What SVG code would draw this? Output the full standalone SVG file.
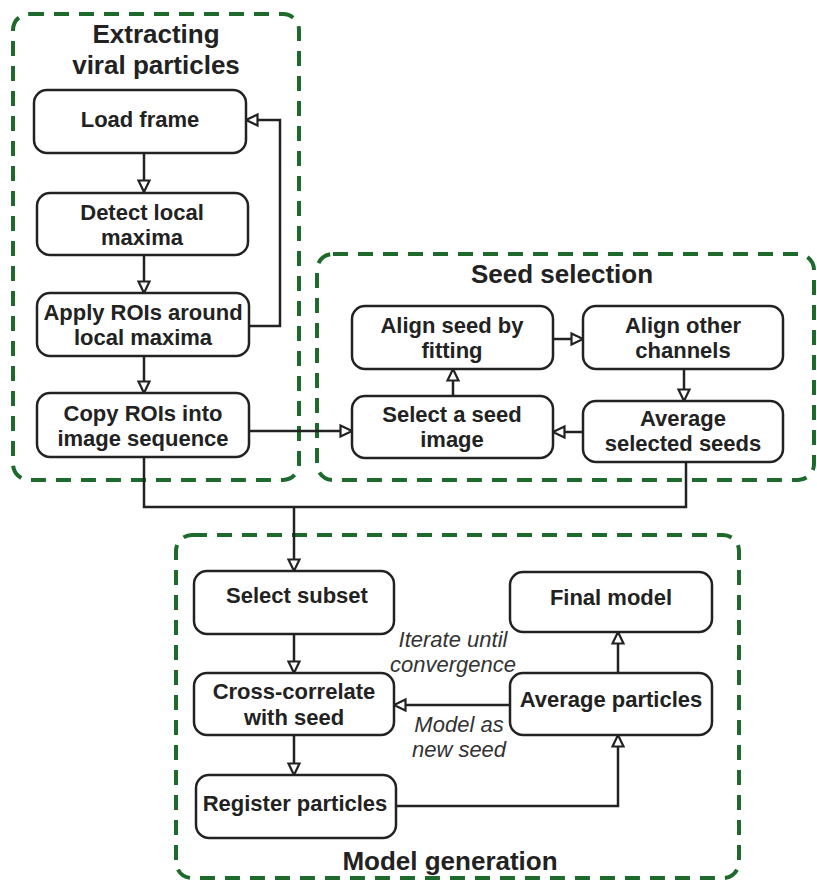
<svg xmlns="http://www.w3.org/2000/svg" width="817" height="881" viewBox="0 0 817 881">
<style>
.grp{fill:none;stroke:#1d6a2c;stroke-width:4;stroke-dasharray:15 10}
.node rect{fill:#fff;stroke:#222;stroke-width:2.5}
.t{font-family:"Liberation Sans",Arial,sans-serif;font-weight:bold;font-size:22px;fill:#222;text-anchor:middle}
.title{font-family:"Liberation Sans",Arial,sans-serif;font-weight:bold;font-size:26px;fill:#222;text-anchor:middle}
.lbl{font-family:"Liberation Sans",Arial,sans-serif;font-style:italic;font-size:22px;fill:#333;text-anchor:middle}
.c{fill:none;stroke:#222;stroke-width:2.5}
</style>
<defs>
<marker id="ah" viewBox="0 0 14 14" refX="13" refY="7" markerWidth="14" markerHeight="14" markerUnits="userSpaceOnUse" orient="auto" overflow="visible">
<path d="M1.5,1.5 L13,7 L1.5,12.5 z" fill="#fff" stroke="#222" stroke-width="2.2"/>
</marker>
</defs>
<rect width="817" height="881" fill="#fff"/>

<g id="group-extracting">
<rect class="grp" x="13" y="14" width="286" height="466" rx="16"/>
<text class="title" x="156" y="43">Extracting</text>
<text class="title" x="156" y="74">viral particles</text>
</g>
<g id="group-seed">
<rect class="grp" x="317" y="254" width="497" height="226" rx="16"/>
<text class="title" x="562" y="283">Seed selection</text>
</g>
<g id="group-model">
<rect class="grp" x="176" y="535" width="563" height="343" rx="16"/>
<text class="title" x="450" y="870">Model generation</text>
</g>

<g id="connectors">
<path class="c" d="M144,153 V192" marker-end="url(#ah)"/>
<path class="c" d="M144,255 V293" marker-end="url(#ah)"/>
<path class="c" d="M144,356 V393" marker-end="url(#ah)"/>
<path class="c" d="M249,326 H280 V120 H246" marker-end="url(#ah)"/>
<path class="c" d="M249,431 H352" marker-end="url(#ah)"/>
<path class="c" d="M553,339 H583" marker-end="url(#ah)"/>
<path class="c" d="M453,396 V369" marker-end="url(#ah)"/>
<path class="c" d="M684,369 V401" marker-end="url(#ah)"/>
<path class="c" d="M583,432 H553" marker-end="url(#ah)"/>
<path class="c" d="M144,457 V507 H686 V462"/>
<path class="c" d="M294,507 V571" marker-end="url(#ah)"/>
<path class="c" d="M294,634 V673" marker-end="url(#ah)"/>
<path class="c" d="M294,735 V775" marker-end="url(#ah)"/>
<path class="c" d="M396,806 H618 V735" marker-end="url(#ah)"/>
<path class="c" d="M618,673 V632" marker-end="url(#ah)"/>
<path class="c" d="M510,705 H394" marker-end="url(#ah)"/>
<text class="lbl" x="453" y="647">Iterate until</text>
<text class="lbl" x="453" y="672">convergence</text>
<text class="lbl" x="459" y="732">Model as</text>
<text class="lbl" x="459" y="757">new seed</text>
</g>

<g id="load-frame" class="node"><rect x="34" y="90" width="212" height="63" rx="13"/><text class="t" x="140" y="127">Load frame</text></g>
<g id="detect-local-maxima" class="node"><rect x="37" y="193" width="211" height="62" rx="13"/><text class="t" x="142" y="220">Detect local</text><text class="t" x="142" y="245">maxima</text></g>
<g id="apply-rois" class="node"><rect x="37" y="293" width="212" height="63" rx="13"/><text class="t" x="143" y="320">Apply ROIs around</text><text class="t" x="143" y="345">local maxima</text></g>
<g id="copy-rois" class="node"><rect x="37" y="393" width="212" height="64" rx="13"/><text class="t" x="143" y="421">Copy ROIs into</text><text class="t" x="143" y="446">image sequence</text></g>

<g id="align-seed" class="node"><rect x="352" y="306" width="201" height="63" rx="13"/><text class="t" x="452" y="333">Align seed by</text><text class="t" x="452" y="358">fitting</text></g>
<g id="align-other" class="node"><rect x="583" y="306" width="200" height="63" rx="13"/><text class="t" x="683" y="333">Align other</text><text class="t" x="683" y="358">channels</text></g>
<g id="select-seed" class="node"><rect x="352" y="396" width="201" height="62" rx="13"/><text class="t" x="452" y="422">Select a seed</text><text class="t" x="452" y="447">image</text></g>
<g id="average-seeds" class="node"><rect x="583" y="401" width="200" height="61" rx="13"/><text class="t" x="683" y="426">Average</text><text class="t" x="683" y="451">selected seeds</text></g>

<g id="select-subset" class="node"><rect x="194" y="571" width="200" height="63" rx="13"/><text class="t" x="297" y="603">Select subset</text></g>
<g id="cross-correlate" class="node"><rect x="194" y="673" width="200" height="62" rx="13"/><text class="t" x="294" y="699">Cross-correlate</text><text class="t" x="294" y="725">with seed</text></g>
<g id="register-particles" class="node"><rect x="196" y="775" width="200" height="63" rx="13"/><text class="t" x="295" y="811">Register particles</text></g>
<g id="final-model" class="node"><rect x="510" y="572" width="202" height="60" rx="13"/><text class="t" x="611" y="605">Final model</text></g>
<g id="average-particles" class="node"><rect x="510" y="673" width="202" height="62" rx="13"/><text class="t" x="611" y="707">Average particles</text></g>
</svg>
